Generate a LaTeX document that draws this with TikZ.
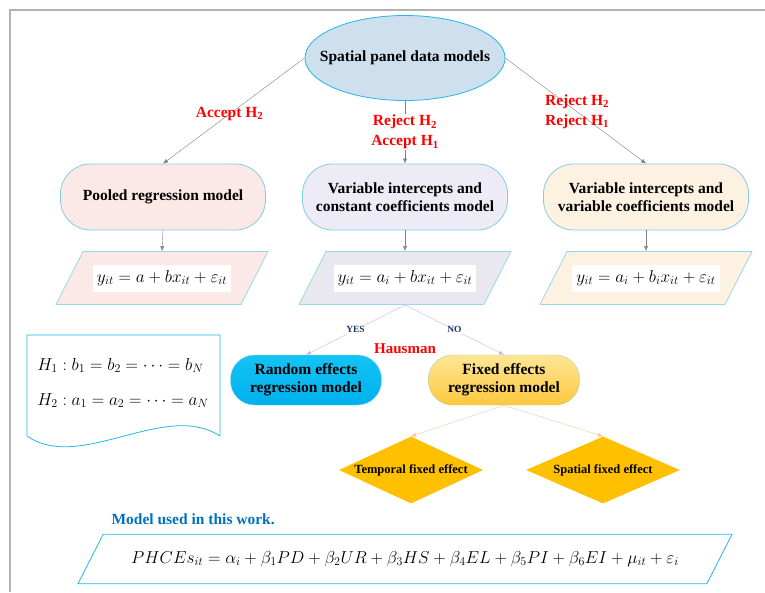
\documentclass[tikz,border=0pt]{standalone}
\usepackage{amsmath}
\usepackage{fontspec}
\setmainfont{Liberation Serif}
\usepackage{tikz}
\usetikzlibrary{arrows.meta,positioning,shapes.geometric}
\definecolor{lineblue}{RGB}{128,206,224}
\definecolor{brightblue}{RGB}{35,182,232}
\definecolor{ellfill}{RGB}{206,224,238}
\definecolor{pinkfill}{RGB}{251,233,231}
\definecolor{lilacfill}{RGB}{236,235,246}
\definecolor{grayfill}{RGB}{233,232,240}
\definecolor{peachfill}{RGB}{253,241,226}
\definecolor{gold}{RGB}{255,192,0}
\definecolor{modelblue}{RGB}{0,112,192}
\definecolor{navy}{RGB}{31,56,100}
\definecolor{lilacline}{RGB}{196,184,220}
\definecolor{peachline}{RGB}{248,196,160}
\definecolor{randtop}{RGB}{20,196,245}
\definecolor{randbot}{RGB}{0,176,236}
\definecolor{fixtop}{RGB}{255,230,150}
\definecolor{fixbot}{RGB}{251,200,62}
\definecolor{fixedge}{RGB}{169,209,142}

\begin{document}
\begin{tikzpicture}[x=1pt,y=-1pt,
  box/.style={draw=lineblue,thick,rounded corners=30pt,minimum width=205pt,
              minimum height=66pt,align=center,font=\bfseries\fontsize{15.5}{18}\selectfont},
  para/.style={trapezium,trapezium left angle=63,trapezium right angle=117,
               trapezium stretches body=true,draw=lineblue!80,thick,
               minimum width=212pt,inner ysep=26.5pt},
  eq/.style={fill=white,inner xsep=4pt,minimum height=27pt,font=\fontsize{16.5}{18}\selectfont},
  eff/.style={rounded corners=24pt,minimum width=151pt,minimum height=50pt,
              align=center,font=\bfseries\fontsize{15.5}{18}\selectfont},
  dia/.style={diamond,fill=gold,inner sep=0pt,minimum height=67pt,
              font=\bfseries\fontsize{12.5}{14}\selectfont},
  lbl/.style={text=red,align=center,inner sep=1pt,font=\bfseries\fontsize{15.5}{20}\selectfont},
  yn/.style={text=navy,fill=white,inner sep=1pt,font=\bfseries\fontsize{9.5}{11}\selectfont},
  arr/.style={-{Latex[length=5pt,width=4pt]},gray}]
\useasboundingbox (0,0) rectangle (765,592);
\draw[gray!60,line width=1.2pt] (10,592) -- (10,10) -- (765,10);
\node[ellipse,draw=brightblue,fill=ellfill,thick,inner sep=0pt,minimum width=200pt,minimum height=85pt,
      font=\bfseries\fontsize{15.5}{18}\selectfont] (spm) at (405,58) {\makebox[0pt]{Spatial panel data models}};
\node[box,fill=pinkfill] (pool) at (163,197) {Pooled regression model};
\node[box,fill=lilacfill] (vic) at (405,197) {Variable intercepts and\\constant coefficients model};
\node[box,fill=peachfill] (viv) at (646,197) {Variable intercepts and\\variable coefficients model};
\node[para,fill=pinkfill] (ppool) at (162,278) {};
\node[para,fill=grayfill] (pvic) at (405,278) {};
\node[para,fill=peachfill] (pviv) at (646,278) {};
\node[eq] (epool) at (162,278) {$y_{it} = a + bx_{it} + \varepsilon_{it}$};
\node[eq] (evic) at (405,278) {$y_{it} = a_i + bx_{it} + \varepsilon_{it}$};
\node[eq] (eviv) at (646,278) {$y_{it} = a_i + b_i x_{it} + \varepsilon_{it}$};
\draw[arr] (spm.west) -- node[lbl,pos=.53] {Accept H\textsubscript{2}} (pool.north);
\draw[arr] (spm.south) -- node[lbl,fill=white] {Reject H\textsubscript{2}\\Accept H\textsubscript{1}} (vic.north);
\draw[arr] (spm.east) -- node[lbl,pos=.51] {Reject H\textsubscript{2}\\Reject H\textsubscript{1}} (viv.north);
\draw[arr] (pool.south) -- (ppool.north);
\draw[arr] (vic.south) -- (pvic.north);
\draw[arr] (viv.south) -- (pviv.north);
\node[eff,draw=brightblue!50,top color=randtop,bottom color=randbot] (rand) at (306,380) {Random effects\\regression model};
\node[eff,draw=fixedge,top color=fixtop,bottom color=fixbot] (fix) at (504,380) {Fixed effects\\regression model};
\node[text=red,font=\bfseries\fontsize{15}{17}\selectfont] (haus) at (405,349) {Hausman};
\draw[arr,lilacline] (pvic.south) -- node[yn] {YES} (rand.north);
\draw[arr,lilacline] (pvic.south) -- node[yn] {NO} (fix.north);
\node[dia,minimum width=144pt] (temp) at (411,470) {\makebox[0pt]{Temporal fixed effect}};
\node[dia,minimum width=154pt] (spat) at (603,470) {\makebox[0pt]{Spatial fixed effect}};
\draw[arr,peachline] (fix.south) -- (temp.north);
\draw[arr,peachline] (fix.south) -- (spat.north);
\draw[brightblue,thick] (27,436) -- (27,335) -- (220,335) -- (220,436)
  .. controls (165,400) and (80,473) .. (27,436);
\node[align=left,font=\fontsize{16.5}{35}\selectfont] (hyp) at (123,383)
  {$H_1 : b_1 = b_2 = \cdots = b_N$\\$H_2 : a_1 = a_2 = \cdots = a_N$};
\node[text=modelblue,anchor=west,font=\bfseries\fontsize{15.5}{18}\selectfont] (used) at (108,519) {Model used in this work.};
\node[para,draw=brightblue,minimum width=654pt,inner ysep=17pt,font=\fontsize{17}{20}\selectfont] (final) at (405,559)
  {$PHCEs_{it} = \alpha_i + \beta_1 PD + \beta_2 UR + \beta_3 HS + \beta_4 EL + \beta_5 PI + \beta_6 EI + \mu_{it} + \varepsilon_i$};
\end{tikzpicture}
\end{document}
